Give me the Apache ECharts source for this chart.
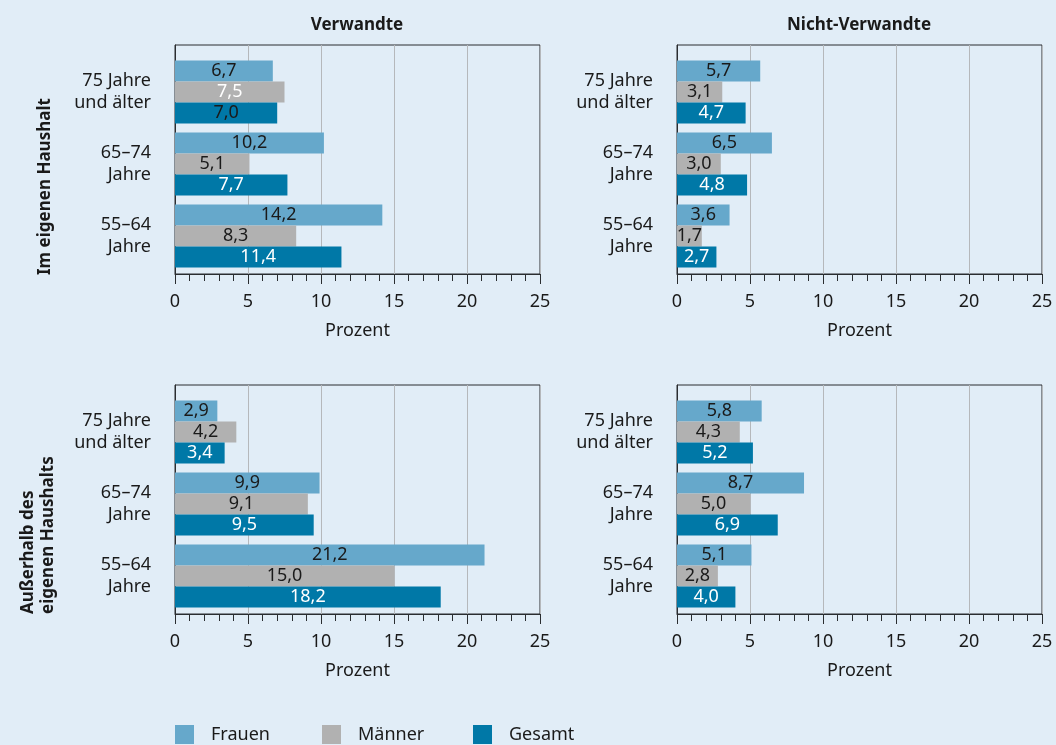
<!DOCTYPE html>
<html>
<head>
<meta charset="utf-8">
<script src="https://cdn.jsdelivr.net/npm/echarts@6/dist/echarts.min.js"></script>
<style>
html,body{margin:0;padding:0;background:#e1edf7;}
#chart{width:1056px;height:745px;}
</style>
</head>
<body>
<div id="chart"></div>
<script>
// ---- data ----
const categories = ['75 Jahre\nund älter', '65–74\nJahre', '55–64\nJahre'];
const seriesNames = ['Frauen', 'Männer', 'Gesamt'];
const columnTitles = ['Verwandte', 'Nicht-Verwandte'];
const rowTitles = ['Im eigenen Haushalt', 'Außerhalb des\neigenen Haushalts'];
const xTickLabels = ['0', '5', '10', '15', '20', '25'];
const axisTitle = 'Prozent';

// Im eigenen Haushalt – Verwandte
const eigenVerwFrauen = [6.7, 10.2, 14.2];
const eigenVerwMaenner = [7.5, 5.1, 8.3];
const eigenVerwGesamt = [7.0, 7.7, 11.4];
// Im eigenen Haushalt – Nicht-Verwandte
const eigenNichtFrauen = [5.7, 6.5, 3.6];
const eigenNichtMaenner = [3.1, 3.0, 1.7];
const eigenNichtGesamt = [4.7, 4.8, 2.7];
// Außerhalb – Verwandte
const ausserVerwFrauen = [2.9, 9.9, 21.2];
const ausserVerwMaenner = [4.2, 9.1, 15.0];
const ausserVerwGesamt = [3.4, 9.5, 18.2];
// Außerhalb – Nicht-Verwandte
const ausserNichtFrauen = [5.8, 8.7, 5.1];
const ausserNichtMaenner = [4.3, 5.0, 2.8];
const ausserNichtGesamt = [5.2, 6.9, 4.0];

const panelData = [
  [eigenVerwFrauen, eigenVerwMaenner, eigenVerwGesamt],
  [eigenNichtFrauen, eigenNichtMaenner, eigenNichtGesamt],
  [ausserVerwFrauen, ausserVerwMaenner, ausserVerwGesamt],
  [ausserNichtFrauen, ausserNichtMaenner, ausserNichtGesamt]
];

// ---- styles ----
const FONT = 'Noto Sans';
const TXT = '#1a1a1a';
const colors = ['#66a8cb', '#b1b1b1', '#0078a7'];
const defaultLabelColors = [TXT, TXT, '#ffffff'];
// label colour exceptions: panel-series-category
const labelOverrides = {'0-1-0': '#ffffff', '0-2-0': TXT};
const panelLeft = [175, 677, 175, 677];
const panelTop = [45, 45, 385, 385];
const PW = 365, PH = 229;

const grid = [], xAxis = [], yAxis = [], series = [];
panelData.forEach((pd, p) => {
  const L = panelLeft[p], T = panelTop[p];
  // frame grid
  grid.push({left: L, top: T, width: PW, height: PH, show: true, borderColor: '#2a2d30', borderWidth: 1, backgroundColor: 'transparent'});
  // bar grid
  grid.push({left: L, top: T + 11, width: PW, height: 216});
  xAxis.push({
    gridIndex: 2 * p, type: 'value', min: 0, max: 25, interval: 5,
    axisLine: {show: true, lineStyle: {color: '#2a2d30', width: 1}},
    axisTick: {show: true, length: 10, lineStyle: {color: '#2a2d30'}},
    minorTick: {show: true, splitNumber: 5, length: 7, lineStyle: {color: '#2a2d30'}},
    splitLine: {show: true, lineStyle: {color: '#b5b8bb', width: 1}},
    axisLabel: {fontFamily: FONT, fontSize: 18, color: TXT, margin: 19,
      formatter: (v) => xTickLabels[Math.round(v / 5)]},
    name: axisTitle, nameLocation: 'middle', nameGap: 48,
    nameTextStyle: {fontFamily: FONT, fontSize: 18, color: TXT}
  });
  xAxis.push({gridIndex: 2 * p + 1, type: 'value', min: 0, max: 25, show: false});
  yAxis.push({gridIndex: 2 * p, type: 'value', min: 0, max: 1,
    axisLine: {show: true, lineStyle: {color: '#2a2d30'}}, axisTick: {show: false},
    axisLabel: {show: false}, splitLine: {show: false}});
  yAxis.push({gridIndex: 2 * p + 1, type: 'category', data: categories, inverse: true,
    axisLine: {show: false}, axisTick: {show: false}, splitLine: {show: false},
    axisLabel: {fontFamily: FONT, fontSize: 18, color: TXT, lineHeight: 22, margin: 24, align: 'right'}});
  pd.forEach((vals, s) => {
    series.push({
      type: 'bar', name: seriesNames[s],
      xAxisIndex: 2 * p + 1, yAxisIndex: 2 * p + 1,
      barWidth: 21, barGap: '0%',
      itemStyle: {color: colors[s]},
      data: vals.map((v, c) => ({
        value: v,
        label: {color: labelOverrides[p + '-' + s + '-' + c] || defaultLabelColors[s]}
      })),
      label: {show: true, position: 'inside', fontFamily: FONT, fontSize: 18,
        formatter: (d) => d.value.toFixed(1).replace('.', ',')},
      emphasis: {disabled: true},
      animation: false
    });
  });
});

const legendLeft = [175, 322, 473];
const legend = seriesNames.map((n, i) => ({
  data: [n], left: legendLeft[i], top: 725, padding: 0, itemWidth: 19, itemHeight: 19, icon: 'rect',
  selectedMode: false,
  textStyle: {fontFamily: FONT, fontSize: 18, lineHeight: 19, color: TXT, padding: [0, 0, 0, 12]}
}));

const titleFont = 'bold 17px "Noto Sans"';
const graphic = [
  {type: 'text', x: 357, y: 25, style: {text: columnTitles[0], font: titleFont, fill: TXT, textAlign: 'center', textVerticalAlign: 'middle'}},
  {type: 'text', x: 859, y: 25, style: {text: columnTitles[1], font: titleFont, fill: TXT, textAlign: 'center', textVerticalAlign: 'middle'}},
  {type: 'text', x: 45, y: 275, rotation: Math.PI / 2, style: {text: rowTitles[0], font: titleFont, fill: TXT, textAlign: 'left', textVerticalAlign: 'middle'}},
  {type: 'text', x: 38, y: 614, rotation: Math.PI / 2, style: {text: rowTitles[1], font: titleFont, lineHeight: 20, fill: TXT, textAlign: 'left', textVerticalAlign: 'middle'}}
];

const chart = echarts.init(document.getElementById('chart'), null, {renderer: 'canvas'});
chart.setOption({
  backgroundColor: '#e1edf7',
  animation: false,
  grid, xAxis, yAxis, series, legend, graphic
});
</script>
</body>
</html>
